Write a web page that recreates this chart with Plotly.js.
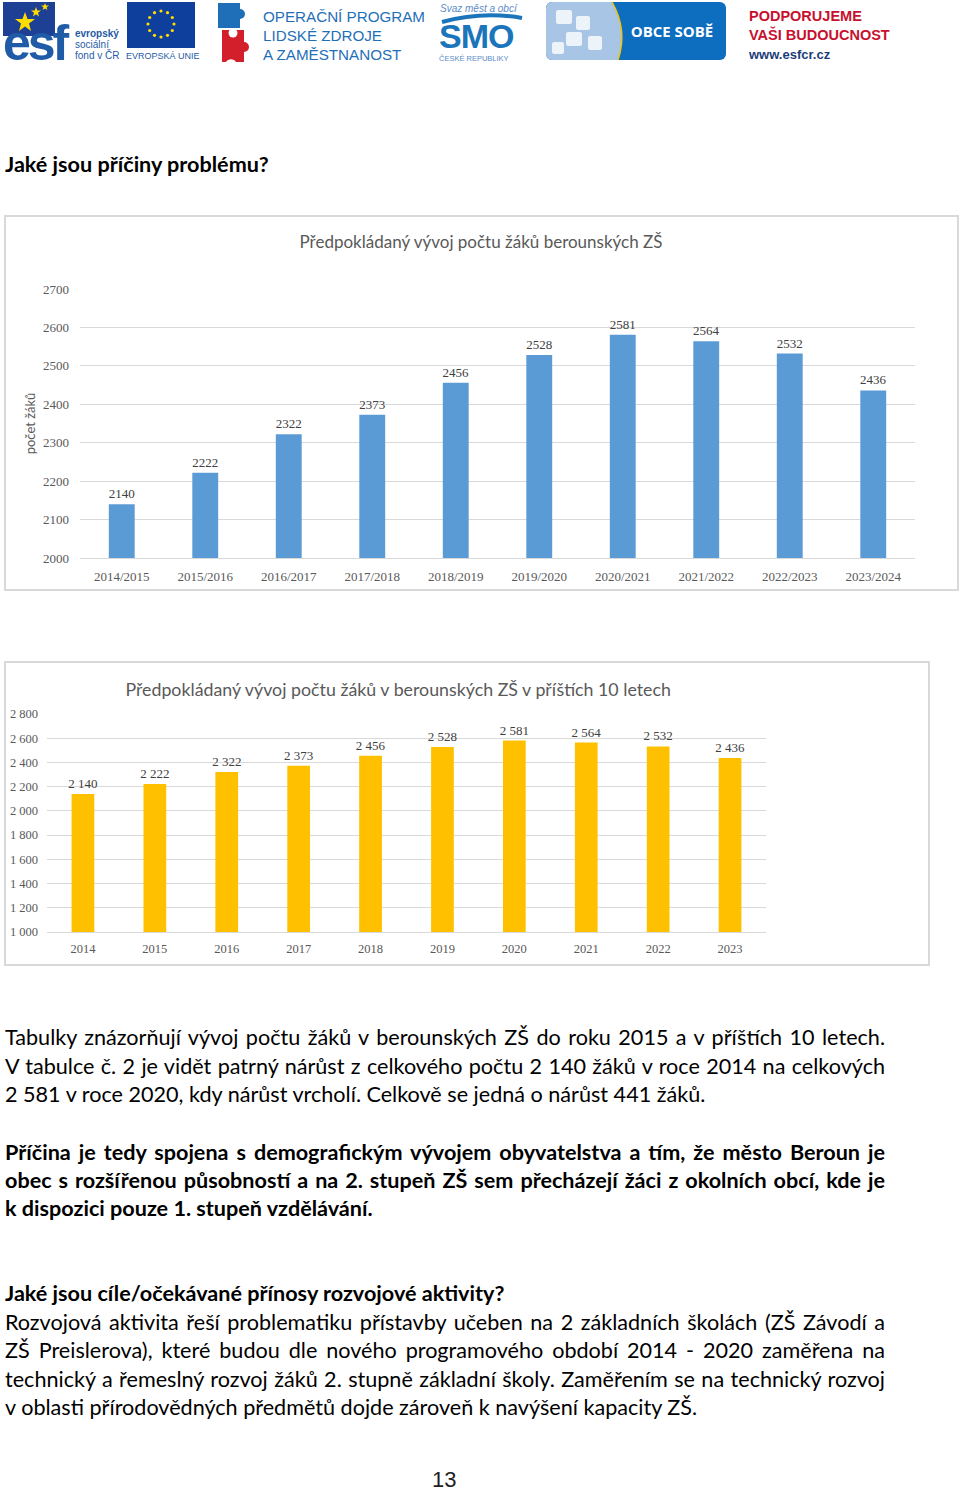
<!DOCTYPE html>
<html>
<head>
<meta charset="utf-8">
<script src="https://cdn.plot.ly/plotly-3.0.1.min.js"></script>
<style>
  html, body { margin: 0; padding: 0; background: #fff; }
  body { width: 960px; height: 1490px; position: relative; overflow: hidden; font-family: Lato, "Noto Sans", sans-serif; color: #000; }
  .ln { position: absolute; left: 5px; width: 880px; height: 28px; line-height: 28px; font-size: 21.6px; white-space: nowrap; }
  .j { text-align: justify; text-align-last: justify; white-space: normal; }
  .b { font-weight: bold; }
  .frame { position: absolute; border: 2px solid #d9d9d9; box-sizing: border-box; pointer-events: none; }
  .chart { position: absolute; }
</style>
</head>
<body>

<svg style="position:absolute;left:0;top:0" width="960" height="70" xmlns="http://www.w3.org/2000/svg">
  <!-- ESF -->
  <rect x="3" y="2" width="52" height="34" fill="#1d3f94"/>
  <polygon points="25,12 27.5,19 35,19 29,23.5 31,31 25,26.5 19,31 21,23.5 15,19 22.5,19" fill="#ffdd00"/>
  <polygon points="36,7 37.3,10.5 41,10.5 38,12.8 39,16.5 36,14.3 33,16.5 34,12.8 31,10.5 34.7,10.5" fill="#ffdd00"/>
  <polygon points="45,3 46,5.6 49,5.6 46.6,7.3 47.4,10 45,8.4 42.6,10 43.4,7.3 41,5.6 44,5.6" fill="#ffdd00"/>
  <text x="3" y="60" font-family="Liberation Sans, Arial" font-weight="bold" font-size="50" fill="#1f5ba6" letter-spacing="-3">esf</text>
  <text x="75" y="37" font-family="Liberation Sans, Arial" font-weight="bold" font-size="10" fill="#1f5ba6">evropský</text>
  <text x="75" y="48" font-family="Liberation Sans, Arial" font-size="10" fill="#1f5ba6">sociální</text>
  <text x="75" y="59" font-family="Liberation Sans, Arial" font-size="10" fill="#1f5ba6">fond v ČR</text>
  <rect x="127" y="2" width="68" height="46" fill="#0f3f9c"/>
  <g fill="#ffdd00">
    <circle cx="161" cy="11" r="1.6"/><circle cx="167.5" cy="12.7" r="1.6"/><circle cx="172.3" cy="17.5" r="1.6"/>
    <circle cx="174" cy="24" r="1.6"/><circle cx="172.3" cy="30.5" r="1.6"/><circle cx="167.5" cy="35.3" r="1.6"/>
    <circle cx="161" cy="37" r="1.6"/><circle cx="154.5" cy="35.3" r="1.6"/><circle cx="149.7" cy="30.5" r="1.6"/>
    <circle cx="148" cy="24" r="1.6"/><circle cx="149.7" cy="17.5" r="1.6"/><circle cx="154.5" cy="12.7" r="1.6"/>
  </g>
  <text x="126" y="59" font-family="Liberation Sans, Arial" font-size="9" fill="#1f5ba6">EVROPSKÁ UNIE</text>

  <!-- OP LZZ -->
  <path d="M218,3 h22 v6 a5,5 0 1 1 0,10 v9 h-22 z" fill="#1f6fb8"/>
  <path d="M222,30 h22 v12 a5,5 0 1 1 0,10 v10 h-8 a6,6 0 0 0 -10,0 h-4 z" fill="#d21f2b"/>
  <circle cx="233" cy="33" r="4.5" fill="#fff"/>
  <text x="263" y="22" font-family="Liberation Sans, Arial" font-size="15.2" fill="#1f6fb8">OPERAČNÍ PROGRAM</text>
  <text x="263" y="41" font-family="Liberation Sans, Arial" font-size="15.2" fill="#1f6fb8">LIDSKÉ ZDROJE</text>
  <text x="263" y="60" font-family="Liberation Sans, Arial" font-size="15.2" fill="#1f6fb8">A ZAMĚSTNANOST</text>

  <!-- SMO -->
  <text x="440" y="12" font-family="Liberation Sans, Arial" font-style="italic" font-size="10" fill="#5b8cc6">Svaz měst a obcí</text>
  <path d="M442,22 Q482,11 522,18" stroke="#1b75bb" stroke-width="4" fill="none"/>
  <text x="439" y="48" font-family="Liberation Sans, Arial" font-weight="bold" font-size="34" fill="#1b75bb" letter-spacing="-1">SMO</text>
  <text x="439" y="61" font-family="Liberation Sans, Arial" font-size="7.5" fill="#5b8cc6">ČESKÉ REPUBLIKY</text>

  <!-- OBCE SOBE -->
  <rect x="546" y="2" width="180" height="58" rx="6" fill="#0d6dbe"/>
  <path d="M552,2 H612 Q628,30 618,60 H552 A6,6 0 0 1 546,54 V8 A6,6 0 0 1 552,2 Z" fill="#a8c5e6"/>
  <path d="M612,2 Q628,30 618,60" stroke="#f1c40f" stroke-width="1.5" fill="none"/>
  <g fill="#f4f8fc" opacity="0.9">
    <rect x="556" y="10" width="16" height="14" rx="2"/><rect x="576" y="16" width="14" height="14" rx="2"/>
    <rect x="566" y="32" width="16" height="14" rx="2"/><rect x="588" y="36" width="14" height="14" rx="2"/>
    <rect x="552" y="42" width="12" height="12" rx="2"/>
  </g>
  <text x="672" y="37" text-anchor="middle" font-family="Open Sans, Liberation Sans" font-weight="bold" font-size="15" fill="#ffffff">OBCE SOBĚ</text>

  <!-- PODPORUJEME -->
  <text x="749" y="21" font-family="Liberation Sans, Arial" font-weight="bold" font-size="14.5" fill="#c8102e">PODPORUJEME</text>
  <text x="749" y="40" font-family="Liberation Sans, Arial" font-weight="bold" font-size="14.5" fill="#c8102e">VAŠI BUDOUCNOST</text>
  <text x="749" y="59" font-family="Liberation Sans, Arial" font-weight="bold" font-size="13" fill="#1d3c78">www.esfcr.cz</text>
</svg>

<div class="ln b" style="top:150px">Jaké jsou příčiny problému?</div>

<div id="chart1" class="chart" style="left:5px;top:216px;width:953px;height:374px"></div>
<div class="frame" style="left:4px;top:215px;width:955px;height:376px"></div>

<div id="chart2" class="chart" style="left:5px;top:662px;width:924px;height:303px"></div>
<div class="frame" style="left:4px;top:661px;width:926px;height:305px"></div>

<div class="ln j" style="top:1023px">Tabulky znázorňují vývoj počtu žáků v berounských ZŠ do roku 2015 a v příštích 10 letech.</div>
<div class="ln j" style="top:1052px">V tabulce č. 2 je vidět patrný nárůst z celkového počtu 2 140 žáků v roce 2014 na celkových</div>
<div class="ln" style="top:1080px">2 581 v roce 2020, kdy nárůst vrcholí. Celkově se jedná o nárůst 441 žáků.</div>

<div class="ln j b" style="top:1138px">Příčina je tedy spojena s demografickým vývojem obyvatelstva a tím, že město Beroun je</div>
<div class="ln j b" style="top:1166px">obec s rozšířenou působností a na 2. stupeň ZŠ sem přecházejí žáci z okolních obcí, kde je</div>
<div class="ln b" style="top:1194px">k dispozici pouze 1. stupeň vzdělávání.</div>

<div class="ln b" style="top:1279px">Jaké jsou cíle/očekávané přínosy rozvojové aktivity?</div>
<div class="ln j" style="top:1308px">Rozvojová aktivita řeší problematiku přístavby učeben na 2 základních školách (ZŠ Závodí a</div>
<div class="ln j" style="top:1336px">ZŠ Preislerova), které budou dle nového programového období 2014 - 2020 zaměřena na</div>
<div class="ln j" style="top:1365px">technický a řemeslný rozvoj žáků 2. stupně základní školy. Zaměřením se na technický rozvoj</div>
<div class="ln" style="top:1393px">v oblasti přírodovědných předmětů dojde zároveň k navýšení kapacity ZŠ.</div>

<div style="position:absolute;left:432px;top:1466px;font-family:'Liberation Sans',Arial;font-size:22px;line-height:28px;color:#222">13</div>

<script>
// ---- data ----
const schoolYears = ['2014/2015','2015/2016','2016/2017','2017/2018','2018/2019','2019/2020','2020/2021','2021/2022','2022/2023','2023/2024'];
const pupilsBySchoolYear = [2140, 2222, 2322, 2373, 2456, 2528, 2581, 2564, 2532, 2436];
const calendarYears = ['2014','2015','2016','2017','2018','2019','2020','2021','2022','2023'];
const pupilsByYear = [2140, 2222, 2322, 2373, 2456, 2528, 2581, 2564, 2532, 2436];
const title1 = 'Předpokládaný vývoj počtu žáků berounských ZŠ';
const title2 = 'Předpokládaný vývoj počtu žáků v berounských ZŠ v příštích 10 letech';
const yTitle1 = 'počet žáků';

const serif = 'Liberation Serif, DejaVu Serif, serif';
const sans = 'Lato, Open Sans, Noto Sans, sans-serif';
const gray = '#595959';

Plotly.newPlot('chart1', [{
  type: 'bar',
  x: schoolYears,
  y: pupilsBySchoolYear,
  marker: { color: '#5b9bd5' },
  texttemplate: '%{y}',
  textposition: 'outside',
  constraintext: 'none',
  textfont: { family: serif, size: 13, color: '#404040' },
  cliponaxis: false
}], {
  width: 953, height: 374,
  margin: { l: 75, r: 43, t: 73, b: 32 },
  paper_bgcolor: '#fff', plot_bgcolor: '#fff',
  showlegend: false,
  bargap: 0.69,
  title: { text: title1, font: { family: sans, size: 17, color: gray }, xref: 'container', x: 0.4995, xanchor: 'center', yref: 'container', y: 0.9305, yanchor: 'middle' },
  xaxis: { type: 'category', tickfont: { family: serif, size: 13, color: gray }, showline: true, linecolor: '#d9d9d9', ticks: '', showgrid: false, ticklabelstandoff: 6 },
  yaxis: { range: [2000, 2700], dtick: 100, tick0: 2000, gridcolor: '#d9d9d9', zeroline: false, showline: false, ticks: '',
           tickfont: { family: serif, size: 13, color: gray }, ticklabelstandoff: 10,
           title: { text: yTitle1, font: { family: sans, size: 13, color: gray }, standoff: 4 } }
}, { staticPlot: true });

Plotly.newPlot('chart2', [{
  type: 'bar',
  x: calendarYears,
  y: pupilsByYear,
  marker: { color: '#ffc000' },
  texttemplate: '%{y:,}',
  textposition: 'outside',
  constraintext: 'none',
  textfont: { family: serif, size: 13, color: '#404040' },
  cliponaxis: false
}], {
  width: 924, height: 303,
  separators: ', ',
  margin: { l: 42, r: 163, t: 52, b: 33 },
  paper_bgcolor: '#fff', plot_bgcolor: '#fff',
  showlegend: false,
  bargap: 0.684,
  title: { text: title2, font: { family: sans, size: 17.8, color: gray }, xref: 'container', x: 0.4255, xanchor: 'center', yref: 'container', y: 0.9076, yanchor: 'middle' },
  xaxis: { type: 'category', tickfont: { family: serif, size: 12.5, color: gray }, showline: true, linecolor: '#d9d9d9', ticks: '', showgrid: false, ticklabelstandoff: 5 },
  yaxis: { range: [1000, 2800], dtick: 200, tick0: 1000, tickformat: ',d', gridcolor: '#d9d9d9', zeroline: false, showline: false, ticks: '',
           tickfont: { family: serif, size: 12.5, color: gray }, ticklabelstandoff: 8 }
}, { staticPlot: true });
</script>
</body>
</html>
